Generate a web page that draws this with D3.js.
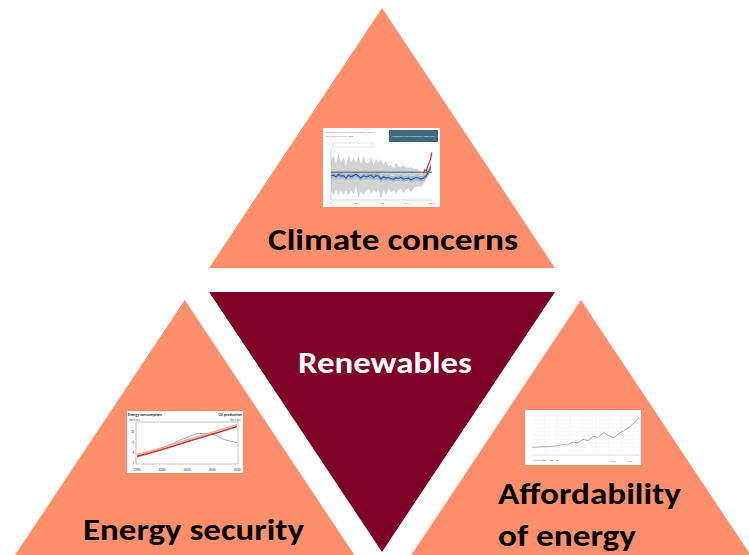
<!DOCTYPE html>
<html><head><meta charset="utf-8">
<script src="https://cdn.jsdelivr.net/npm/d3@7"></script>
<style>html,body{margin:0;padding:0;background:#fff;}svg{display:block;}</style>
</head><body>
<svg id="c" width="749" height="555"></svg>
<script>
// ---- data ----
const labels = ["Climate concerns", "Renewables", "Energy security", "Affordability of energy"];
const orient = ["up", "down", "up", "up"];
// lattice cells (column in half-widths, row) of each triangle
const cellCol = [1.0, 1.0, -0.14, 2.15];
const cellRow = [0, 1.092, 1.123, 1.123];

// Climate thumbnail: reconstructed temperature anomaly (blue), band half-width (grey)
const climateYears = [0,50,100,150,200,250,300,350,400,450,500,550,600,650,700,750,800,850,900,950,1000,1050,1100,1150,1200,1250,1300,1350,1400,1450,1500,1550,1600,1650,1700,1750,1800,1850,1900,1950,2000];
const climateMean = [-0.1,-0.08,-0.15,-0.05,-0.12,-0.1,-0.2,-0.08,-0.15,-0.1,-0.05,-0.12,-0.2,-0.1,-0.15,-0.12,-0.08,-0.18,-0.1,-0.12,-0.25,-0.15,-0.2,-0.18,-0.22,-0.25,-0.2,-0.22,-0.18,-0.25,-0.22,-0.2,-0.28,-0.22,-0.18,-0.2,-0.25,-0.2,-0.12,0.05,0.3];
const climateSpread = [0.55,0.7,0.45,0.75,0.5,0.68,0.45,0.72,0.5,0.65,0.42,0.75,0.48,0.7,0.5,0.45,0.66,0.42,0.6,0.48,0.7,0.45,0.6,0.4,0.5,0.38,0.55,0.42,0.38,0.5,0.4,0.36,0.45,0.35,0.32,0.3,0.26,0.2,0.15,0.12,0.1];
const climateRecent = [0.0,0.15,0.1,0.3,0.45,0.6,0.9];

// Energy thumbnail
const energyYears = [1990,1995,2000,2005,2010,2015,2020,2025,2030];
const energyConsumption = [8.0,8.4,8.9,9.4,9.9,10.4,10.9,11.4,11.9];
const oilProduction = [8.2,8.6,9.1,9.8,10.5,11.0,10.9,10.2,9.8];
const energyTicks = ["1990","2000","2010","2020","2030"];

// Affordability thumbnail: price index
const priceYears = [1980,1982,1984,1986,1988,1990,1992,1994,1996,1998,2000,2002,2004,2006,2008,2010,2012,2014,2016,2018,2020,2022];
const priceIndex = [20,20,21,21,22,24,27,26,33,31,40,37,48,45,58,50,44,55,62,70,82,96];

// ---- drawing ----
const svg = d3.select("#c");
const salmon = "#FE8F6D", maroon = "#7D0029";
const halfW = 173, triH = 260;
const gx = d3.scaleLinear().domain([0, 1]).range([209, 209 + halfW]);
const gy = d3.scaleLinear().domain([0, 1]).range([8, 8 + triH]);

function triPts(i) {
  const c = cellCol[i], r = cellRow[i];
  if (orient[i] === "up") {
    return [[gx(c), gy(r)], [gx(c - 1), gy(r + 1)], [gx(c + 1), gy(r + 1)]];
  } else {
    return [[gx(c - 1), gy(r)], [gx(c + 1), gy(r)], [gx(c), gy(r + 1)]];
  }
}
svg.selectAll("path.tri").data(labels).join("path")
  .attr("class", "tri")
  .attr("d", (d, i) => d3.line()(triPts(i)) + "Z")
  .attr("fill", (d, i) => orient[i] === "up" ? salmon : maroon);

const font = "Carlito, Calibri, Lato, 'Open Sans', sans-serif";
function label(text, x, y, w, color) {
  svg.append("text").attr("font-family", font).attr("font-weight", 700)
    .attr("font-size", 30).attr("fill", color).attr("x", x).attr("y", y)
    .attr("textLength", w).attr("lengthAdjust", "spacingAndGlyphs").text(text);
}
label(labels[0], 268, 250, 250, "#000");
label(labels[1], 298, 373, 174, "#fff");
label(labels[2], 83, 540, 221, "#000");
label("Affordability", 498, 504, 183, "#000");
label("of energy", 498, 546, 138, "#000");

// ---- Climate thumbnail ----
(function () {
  const g = svg.append("g");
  g.append("rect").attr("x", 323).attr("y", 128).attr("width", 117).attr("height", 79).attr("fill", "#fff");
  g.append("text").attr("x", 325).attr("y", 133).attr("font-size", 2.8).attr("fill", "#888").attr("font-family", font).text("Temperature change reconstructed, 2000 yr");
  g.append("text").attr("x", 325).attr("y", 137).attr("font-size", 2.8).attr("fill", "#888").attr("font-family", font).text("and observed since 1850");
  g.append("rect").attr("x", 389).attr("y", 130).attr("width", 49).attr("height", 12).attr("fill", "#3d6b7d");
  g.append("text").attr("x", 392).attr("y", 137).attr("font-size", 2.6).attr("fill", "#cfe").attr("font-family", font).text("Warming is unprecedented in 2000 years");
  g.append("rect").attr("x", 333).attr("y", 143).attr("width", 40).attr("height", 4).attr("fill", "none").attr("stroke", "#bbb").attr("stroke-width", 0.4);
  const x = d3.scaleLinear().domain([0, 2020]).range([331, 432]);
  const y = d3.scaleLinear().domain([-1.1, 1]).range([199, 150]);
  g.append("path").datum(climateYears).attr("d", d3.area().x(d => x(d))
      .y0((d, i) => y(climateMean[i] - climateSpread[i] * 1.2)).y1((d, i) => y(climateMean[i] + climateSpread[i] * 1.2)))
    .attr("fill", "#d2d2d2");
  g.append("path").datum(climateYears).attr("d", d3.area().x(d => x(d))
      .y0((d, i) => y(climateMean[i] - 0.12)).y1((d, i) => y(climateMean[i] + 0.12)))
    .attr("fill", "#a3b8cf");
  g.append("line").attr("x1", x(0)).attr("x2", x(2020)).attr("y1", y(0.05)).attr("y2", y(0.05)).attr("stroke", "#333").attr("stroke-width", 0.8);
  g.append("path").datum(climateYears).attr("d", d3.line().x(d => x(d)).y((d, i) => y(climateMean[i])))
    .attr("fill", "none").attr("stroke", "#2f5f9a").attr("stroke-width", 1.2);
  const ry = d3.range(climateRecent.length).map(k => 1850 + k * 28);
  g.append("path").datum(ry).attr("d", d3.line().x(d => x(d)).y((d, i) => y(climateRecent[i])))
    .attr("fill", "none").attr("stroke", "#d62030").attr("stroke-width", 1.2);
  g.append("line").attr("x1", x(0)).attr("x2", x(2020)).attr("y1", 200).attr("y2", 200).attr("stroke", "#999").attr("stroke-width", 0.4);
  g.append("line").attr("x1", x(0)).attr("x2", x(0)).attr("y1", 148).attr("y2", 200).attr("stroke", "#999").attr("stroke-width", 0.4);
  [0, 500, 1000, 1500, 2000].forEach(v => g.append("text").attr("x", x(v)).attr("y", 204).attr("text-anchor", "middle")
    .attr("font-size", 2.8).attr("fill", "#888").attr("font-family", font).text(v));
})();

// ---- Energy thumbnail ----
(function () {
  const g = svg.append("g");
  g.append("rect").attr("x", 127).attr("y", 411).attr("width", 116).attr("height", 62).attr("fill", "#fff");
  g.append("text").attr("x", 128).attr("y", 416).attr("font-size", 4).attr("font-weight", 700).attr("fill", "#333").attr("font-family", font).text("Energy consumption");
  g.append("text").attr("x", 242).attr("y", 416).attr("text-anchor", "end").attr("font-size", 4).attr("font-weight", 700).attr("fill", "#333").attr("font-family", font).text("Oil production");
  g.append("text").attr("x", 129).attr("y", 421).attr("font-size", 3).attr("fill", "#555").attr("font-family", font).text("[bn t/oe]");
  g.append("text").attr("x", 241).attr("y", 421).attr("text-anchor", "end").attr("font-size", 3).attr("fill", "#555").attr("font-family", font).text("[bn t/oe]");
  const x = d3.scaleLinear().domain([1990, 2030]).range([137, 237]);
  const y = d3.scaleLinear().domain([7, 12.5]).range([464, 422]);
  g.append("rect").attr("x", 136).attr("y", 422).attr("width", 102).attr("height", 42).attr("fill", "none").attr("stroke", "#888").attr("stroke-width", 0.5);
  g.append("path").datum(energyYears).attr("d", d3.line().x(d => x(d)).y((d, i) => y(oilProduction[i])).curve(d3.curveMonotoneX))
    .attr("fill", "none").attr("stroke", "#b7a0a8").attr("stroke-width", 1);
  g.append("path").datum(energyYears).attr("d", d3.line().x(d => x(d)).y((d, i) => y(energyConsumption[i] + 0.25)))
    .attr("fill", "none").attr("stroke", "#f0a7a0").attr("stroke-width", 1.4);
  g.append("path").datum(energyYears).attr("d", d3.line().x(d => x(d)).y((d, i) => y(energyConsumption[i])))
    .attr("fill", "none").attr("stroke", "#c83a3a").attr("stroke-width", 1.6);
  energyTicks.forEach(t => g.append("text").attr("x", x(+t)).attr("y", 471).attr("text-anchor", "middle")
    .attr("font-size", 3.5).attr("fill", "#333").attr("font-family", font).text(t));
  ["7", "8", "9", "10"].forEach((t, k) => g.append("text").attr("x", 134).attr("y", y(+t + k * 0.4) + 1).attr("text-anchor", "end")
    .attr("font-size", 3).attr("fill", "#333").attr("font-family", font).text(t));
})();

// ---- Affordability thumbnail ----
(function () {
  const g = svg.append("g");
  g.append("rect").attr("x", 525).attr("y", 410).attr("width", 116).attr("height", 55).attr("fill", "#fff");
  const x = d3.scaleLinear().domain([1980, 2022]).range([532, 639]);
  const y = d3.scaleLinear().domain([0, 110]).range([455, 412]);
  d3.range(1985, 2022, 5).forEach(v => g.append("line").attr("x1", x(v)).attr("x2", x(v)).attr("y1", 412).attr("y2", 455).attr("stroke", "#eee").attr("stroke-width", 0.4));
  d3.range(10, 110, 10).forEach(v => g.append("line").attr("x1", 532).attr("x2", 639).attr("y1", y(v)).attr("y2", y(v)).attr("stroke", "#eee").attr("stroke-width", 0.4));
  g.append("line").attr("x1", 532).attr("x2", 639).attr("y1", 455).attr("y2", 455).attr("stroke", "#aaa").attr("stroke-width", 0.4);
  g.append("path").datum(priceYears).attr("d", d3.line().x(d => x(d)).y((d, i) => y(priceIndex[i])))
    .attr("fill", "none").attr("stroke", "#a9acc8").attr("stroke-width", 1);
  g.append("text").attr("x", 534).attr("y", 461).attr("font-size", 2.8).attr("fill", "#777").attr("font-family", font).text("Price index, 1980 = 20");
  g.append("text").attr("x", 610).attr("y", 462).attr("font-size", 2.8).attr("fill", "#777").attr("font-family", font).text("2019");
  g.append("text").attr("x", 627).attr("y", 462).attr("font-size", 2.8).attr("fill", "#777").attr("font-family", font).text("2022");
})();
</script>
</body></html>
